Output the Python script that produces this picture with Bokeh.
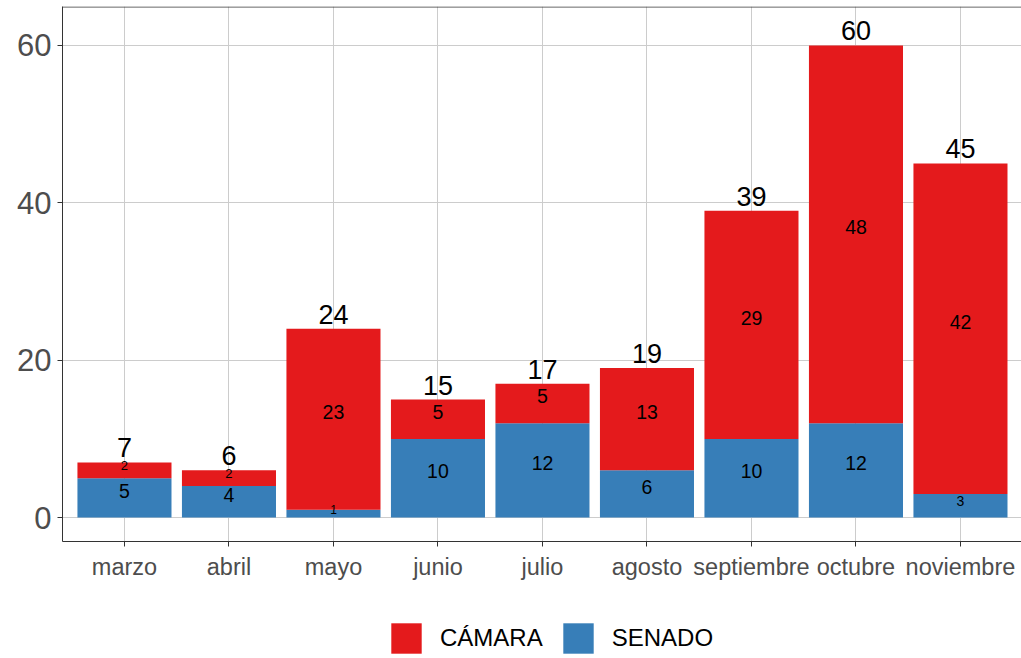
from bokeh.plotting import figure
from bokeh.models import (ColumnDataSource, Range1d, FixedTicker, Legend,
                          LegendItem, Span)
from bokeh.layouts import column
from bokeh.core.properties import value
from bokeh.embed import file_html
from bokeh.resources import INLINE

meses = ["marzo", "abril", "mayo", "junio", "julio", "agosto",
         "septiembre", "octubre", "noviembre"]
senado = [5, 4, 1, 10, 12, 6, 10, 12, 3]
camara = [2, 2, 23, 5, 5, 13, 29, 48, 42]
series = ["CÁMARA", "SENADO"]
y_ticks = [0, 20, 40, 60]

RED = "#E41A1C"
BLUE = "#377EB8"
FONT = "Liberation Sans"
Y_TOP = 64.95

idx = list(range(len(meses)))
totales = [s + c for s, c in zip(senado, camara)]

src = ColumnDataSource(dict(x=idx, senado=senado, camara=camara))

p = figure(width=1021, height=582, output_backend="svg", toolbar_location=None,
           x_range=Range1d(-0.593, len(meses) - 0.416),
           y_range=Range1d(-3.04, Y_TOP),
           min_border_left=62, min_border_right=0, min_border_top=6,
           min_border_bottom=40)

rs = p.vbar_stack(["senado", "camara"], x="x", width=0.9, source=src,
                  color=[BLUE, RED], line_color=None)

# inner labels
def fsize(v):
    return 11 + v if v <= 3 else 19.5

lab_x = idx + idx
lab_y = [s / 2 for s in senado] + [s + c / 2 for s, c in zip(senado, camara)]
lab_v = senado + camara
lsrc = ColumnDataSource(dict(
    x=lab_x, y=lab_y, t=[str(v) for v in lab_v],
    f=[f"{fsize(v)}px" for v in lab_v],
    o=[-0.36 * fsize(v) for v in lab_v]))
p.text(x="x", y="y", text="t", source=lsrc, text_font=value(FONT),
       text_font_size="f", text_align="center", text_baseline="middle",
       text_color="black", y_offset="o")

# totals
tsrc = ColumnDataSource(dict(x=idx, y=totales, t=[str(v) for v in totales]))
p.text(x="x", y="y", text="t", source=tsrc, text_font=value(FONT),
       text_font_size="27px", text_align="center", text_baseline="bottom",
       text_color="black", y_offset=-5)

# axes
p.xaxis.ticker = FixedTicker(ticks=idx)
p.xaxis.major_label_overrides = {i: m for i, m in enumerate(meses)}
p.yaxis.ticker = FixedTicker(ticks=y_ticks)
p.xgrid.ticker = FixedTicker(ticks=idx)
p.ygrid.ticker = FixedTicker(ticks=y_ticks)
for ax in (p.xaxis, p.yaxis):
    ax.minor_tick_line_color = None
    ax.major_tick_in = 0
    ax.major_tick_out = 5
    ax.major_tick_line_color = "#333333"
    ax.axis_line_color = "#333333"
    ax.major_label_text_color = "#4D4D4D"
    ax.major_label_text_font = FONT
p.xaxis.major_label_text_font_size = "23.5px"
p.yaxis.major_label_text_font_size = "31px"
p.yaxis.major_label_standoff = 6
p.xaxis.major_label_standoff = 7

# top border of the panel
p.add_layout(Span(location=Y_TOP - 0.06, dimension="width",
                  line_color="#333333", line_width=1))

p.xgrid.grid_line_color = "#CCCCCC"
p.ygrid.grid_line_color = "#CCCCCC"
p.outline_line_color = None
p.background_fill_color = "white"
p.border_fill_color = "white"

# legend strip below the chart (its renderers hold points outside its view)
lg = figure(width=1021, height=76, output_backend="svg", toolbar_location=None,
            x_range=Range1d(0, 1), y_range=Range1d(0, 1),
            min_border_left=62, min_border_right=0, min_border_top=0,
            min_border_bottom=0)
lg.axis.visible = False
lg.grid.visible = False
lg.outline_line_color = None
lr_cam = lg.vbar(x=[10], top=[10], bottom=[9], width=0.9, color=RED,
                 line_color=None)
lr_sen = lg.vbar(x=[10], top=[10], bottom=[9], width=0.9, color=BLUE,
                 line_color=None)

legend = Legend(items=[LegendItem(label=series[0], renderers=[lr_cam]),
                       LegendItem(label=series[1], renderers=[lr_sen])],
                orientation="horizontal", location=(325, 1),
                glyph_width=38, glyph_height=38, label_standoff=15,
                spacing=16, padding=0, margin=0,
                label_text_font=FONT, label_text_font_size="24px",
                label_text_color="black", border_line_color=None,
                background_fill_alpha=0)
lg.add_layout(legend, "center")

layout = column(p, lg, spacing=0)
open("out.html", "w").write(file_html(layout, INLINE))
